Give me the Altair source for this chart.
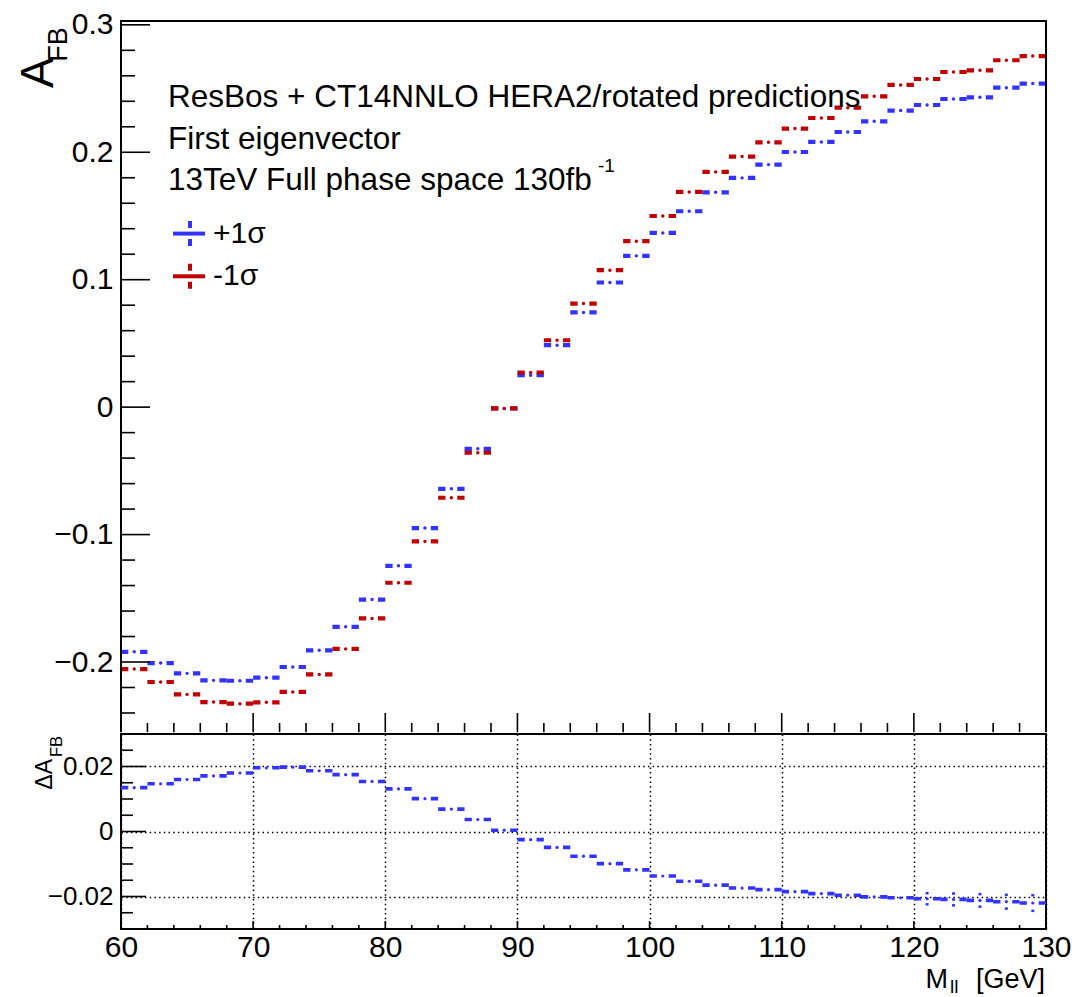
import altair as alt
import pandas as pd

# ---------------- data ----------------
bin_lo = list(range(60, 130, 2))
bin_hi = [b + 2 for b in bin_lo]
bin_mid = [b + 1 for b in bin_lo]

afb_plus = [-0.1920, -0.2008, -0.2089, -0.2144, -0.2147, -0.2123, -0.2039, -0.1908, -0.1724, -0.1510,
            -0.1245, -0.0949, -0.0641, -0.0327, -0.0010, 0.0251, 0.0486, 0.0743, 0.0978, 0.1187,
            0.1367, 0.1537, 0.1686, 0.1799, 0.1903, 0.2002, 0.2081, 0.2159, 0.2243, 0.2327,
            0.2371, 0.2418, 0.2431, 0.2507, 0.2539]
afb_minus = [-0.2055, -0.2157, -0.2254, -0.2314, -0.2327, -0.2316, -0.2235, -0.2097, -0.1897, -0.1658,
             -0.1378, -0.1054, -0.0711, -0.0358, -0.0010, 0.0272, 0.0525, 0.0813, 0.1075, 0.1302,
             0.1500, 0.1689, 0.1846, 0.1966, 0.2078, 0.2186, 0.2269, 0.2350, 0.2439, 0.2528,
             0.2575, 0.2630, 0.2643, 0.2722, 0.2755]
d_afb = [0.0135, 0.0147, 0.0160, 0.0171, 0.0180, 0.0196, 0.0198, 0.0187, 0.0175, 0.0154,
         0.0131, 0.0101, 0.0069, 0.0037, 0.0004, -0.0025, -0.0049, -0.0076, -0.0099, -0.0118,
         -0.0137, -0.0153, -0.0165, -0.0174, -0.0179, -0.0185, -0.0191, -0.0196, -0.0201, -0.0204,
         -0.0207, -0.0209, -0.0212, -0.0216, -0.0220]
d_afb_err = [0, 0, 0, 0, 0, 0, 0, 0, 0, 0,
             0, 0, 0, 0, 0, 0, 0, 0, 0, 0,
             0, 0, 0, 0, 0, 0, 0, 0, 0, 0,
             0.0021, 0.0022, 0.0023, 0.0025, 0.0028]

x_major = [60, 70, 80, 90, 100, 110, 120, 130]
x_minor = [v for v in range(62, 130, 2) if v % 10 != 0]
ytop_major = [-0.2, -0.1, 0.0, 0.1, 0.2, 0.3]
ytop_minor = [-0.24, -0.22, -0.18, -0.16, -0.14, -0.12, -0.08, -0.06, -0.04, -0.02,
              0.02, 0.04, 0.06, 0.08, 0.12, 0.14, 0.16, 0.18, 0.22, 0.24, 0.26, 0.28]
ybot_major = [-0.02, 0.0, 0.02]
ybot_minor = [-0.025, -0.015, -0.01, -0.005, 0.005, 0.01, 0.015, 0.025]

text_lines = ["ResBos + CT14NNLO HERA2/rotated predictions",
              "First eigenvector",
              "13TeV Full phase space 130fb"]
legend_labels = ["+1σ", "-1σ"]

# ---------------- style ----------------
BLUE = "#3333ff"
RED = "#c00000"
FONT = "Liberation Sans"
W, H_TOP, H_BOT = 925, 712, 195
DASH = [7.3, 11.8, 7.3, 60]

xscale = alt.Scale(domain=[60, 130], nice=False, zero=False)
ytop_scale = alt.Scale(domain=[-0.2557, 0.303], nice=False, zero=False)
ybot_scale = alt.Scale(domain=[-0.03, 0.03], nice=False, zero=False)

ytop_axis = alt.Axis(values=ytop_major, format=".1~f", ticks=False, tickSize=0, domain=False,
                     grid=False, labelFont=FONT, labelFontSize=30, labelColor="black",
                     labelPadding=8, labelFlush=False, labelOverlap=False, title=None)
ybot_axis = alt.Axis(values=ybot_major, format=".2~f", ticks=False, tickSize=0, domain=False,
                     grid=True, gridColor="black", gridDash=[1.5, 3.2], gridWidth=1.5, gridOpacity=1,
                     labelFont=FONT, labelFontSize=26, labelColor="black",
                     labelPadding=8, labelFlush=False, labelOverlap=False, title=None)
xbot_axis = alt.Axis(values=x_major, format="d", ticks=False, tickSize=0, domain=False,
                     grid=True, gridColor="black", gridDash=[1.5, 3.2], gridWidth=1.5, gridOpacity=1,
                     labelFont=FONT, labelFontSize=30, labelColor="black",
                     labelPadding=3, labelFlush=False, labelOverlap=False, title=None)


def XT(f):
    return alt.X(f, type="quantitative", scale=xscale, axis=None)


def YT(f):
    return alt.Y(f, type="quantitative", scale=ytop_scale, axis=ytop_axis)


def XB(f):
    return alt.X(f, type="quantitative", scale=xscale, axis=xbot_axis)


def YB(f):
    return alt.Y(f, type="quantitative", scale=ybot_scale, axis=ybot_axis)


def label(text, x, y, size, align="left", angle=0, color="black"):
    kw = dict(font=FONT, fontSize=size, align=align, baseline="alphabetic", color=color)
    if angle:
        kw["angle"] = angle
    return alt.Chart(pd.DataFrame({"t": [text]})).mark_text(**kw).encode(
        x=alt.value(x), y=alt.value(y), text="t:N")


one = pd.DataFrame({"k": [0]})

# ---------------- top panel ----------------
top_df = pd.DataFrame({"lo": bin_lo, "hi": bin_hi, "mid": bin_mid,
                       "plus": afb_plus, "minus": afb_minus})

top_layers = []
for col, color in [("plus", BLUE), ("minus", RED)]:
    top_layers.append(alt.Chart(top_df).mark_rule(color=color, strokeWidth=4.2, strokeDash=DASH,
                                                  strokeCap="butt").encode(
        x=XT("lo"), x2=alt.X2("hi"), y=YT(col)))
    top_layers.append(alt.Chart(top_df).mark_circle(color=color, size=12, opacity=1).encode(
        x=XT("mid"), y=YT(col)))

ytm = pd.DataFrame({"v": ytop_major})
ytn = pd.DataFrame({"v": ytop_minor})
xtm = pd.DataFrame({"v": x_major})
xtn = pd.DataFrame({"v": x_minor})
tick_style = dict(color="black", strokeWidth=1.6, strokeCap="butt")
YB_END = H_TOP - 0.8
top_layers += [
    alt.Chart(ytm).mark_rule(**tick_style).encode(y=YT("v"), x=alt.value(0), x2=alt.value(29)),
    alt.Chart(ytn).mark_rule(**tick_style).encode(y=YT("v"), x=alt.value(0), x2=alt.value(14)),
    alt.Chart(xtm).mark_rule(**tick_style).encode(x=XT("v"), y=alt.value(YB_END), y2=alt.value(H_TOP - 20)),
    alt.Chart(xtn).mark_rule(**tick_style).encode(x=XT("v"), y=alt.value(YB_END), y2=alt.value(H_TOP - 10)),
]
# frame of the upper pad (left, top, right); the lower pad's frame closes it
frame_style = dict(color="black", strokeWidth=2, strokeCap="butt")
top_layers += [
    alt.Chart(one).mark_rule(**frame_style).encode(x=alt.value(0), y=alt.value(-1), y2=alt.value(H_TOP - 1)),
    alt.Chart(one).mark_rule(**frame_style).encode(x=alt.value(W), y=alt.value(-1), y2=alt.value(H_TOP - 1)),
    alt.Chart(one).mark_rule(**frame_style).encode(x=alt.value(-1), x2=alt.value(W + 1), y=alt.value(0)),
]

# annotations
top_layers += [
    label(text_lines[0], 47, 86, 31.5),
    label(text_lines[1], 47, 127.6, 31.5),
    label(text_lines[2], 47, 169.3, 31.5),
    label("-1", 477, 150.5, 19),
    label(legend_labels[0], 92, 222.3, 30),
    label(legend_labels[1], 92, 264, 30),
    label("A", -68, 36.3, 46, align="right", angle=270),
    label("FB", -54, 6.3, 27, align="right", angle=270),
]
# legend symbols
for yc, color in [(212.6, BLUE), (255.3, RED)]:
    top_layers.append(alt.Chart(one).mark_rule(color=color, strokeWidth=4).encode(
        x=alt.value(52), x2=alt.value(84), y=alt.value(yc)))
    top_layers.append(alt.Chart(one).mark_rule(color=color, strokeWidth=4, strokeDash=[7, 11, 7],
                                               strokeCap="butt").encode(
        x=alt.value(69), y=alt.value(yc - 12.5), y2=alt.value(yc + 12.5)))

top = alt.layer(*top_layers).properties(
    width=W, height=H_TOP,
    view=alt.ViewBackground(strokeWidth=0, strokeOpacity=0),
)

# ---------------- bottom panel ----------------
bot_df = pd.DataFrame({"lo": bin_lo, "hi": bin_hi, "mid": bin_mid, "d": d_afb, "e": d_afb_err})
err_df = bot_df[bot_df["e"] > 0].copy()
err_df["up"] = err_df["d"] + err_df["e"]
err_df["dn"] = err_df["d"] - err_df["e"]

ybm = pd.DataFrame({"v": ybot_major})
ybn = pd.DataFrame({"v": ybot_minor})

bot_layers = [
    alt.Chart(bot_df).mark_rule(color=BLUE, strokeWidth=3.6, strokeDash=DASH, strokeCap="butt").encode(
        x=XB("lo"), x2=alt.X2("hi"), y=YB("d")),
    alt.Chart(bot_df).mark_circle(color=BLUE, size=10, opacity=1).encode(x=XB("mid"), y=YB("d")),
    alt.Chart(err_df).mark_rule(color=BLUE, strokeWidth=3, strokeDash=[2.5, 60], strokeCap="butt").encode(
        x=XB("mid"), y=YB("up"), y2=alt.Y2("d")),
    alt.Chart(err_df).mark_rule(color=BLUE, strokeWidth=3, strokeDash=[2.5, 60], strokeCap="butt").encode(
        x=XB("mid"), y=YB("dn"), y2=alt.Y2("d")),
    alt.Chart(ybm).mark_rule(**tick_style).encode(y=YB("v"), x=alt.value(0), x2=alt.value(25)),
    alt.Chart(ybn).mark_rule(**tick_style).encode(y=YB("v"), x=alt.value(0), x2=alt.value(12)),
    alt.Chart(xtm).mark_rule(**tick_style).encode(x=XB("v"), y=alt.value(H_BOT), y2=alt.value(H_BOT - 8)),
    alt.Chart(xtn).mark_rule(**tick_style).encode(x=XB("v"), y=alt.value(H_BOT), y2=alt.value(H_BOT - 4)),
    label("ΔA", -69.3, 25, 23, align="right", angle=270),
    label("FB", -59, 2, 16.5, align="right", angle=270),
    label("M", 827, 253.7, 27, align="right"),
    label("ll", 829, 259, 19),
    label("[GeV]", 924, 253.7, 27, align="right"),
]
bottom = alt.layer(*bot_layers).properties(width=W, height=H_BOT)

chart = alt.vconcat(top, bottom, spacing=0).properties(
    padding={"left": 16, "top": 9, "right": 0, "bottom": 6},
    background="white",
).configure_view(stroke="black", strokeWidth=2)

chart.save("out.html", embed_options={"renderer": "svg", "actions": False})
